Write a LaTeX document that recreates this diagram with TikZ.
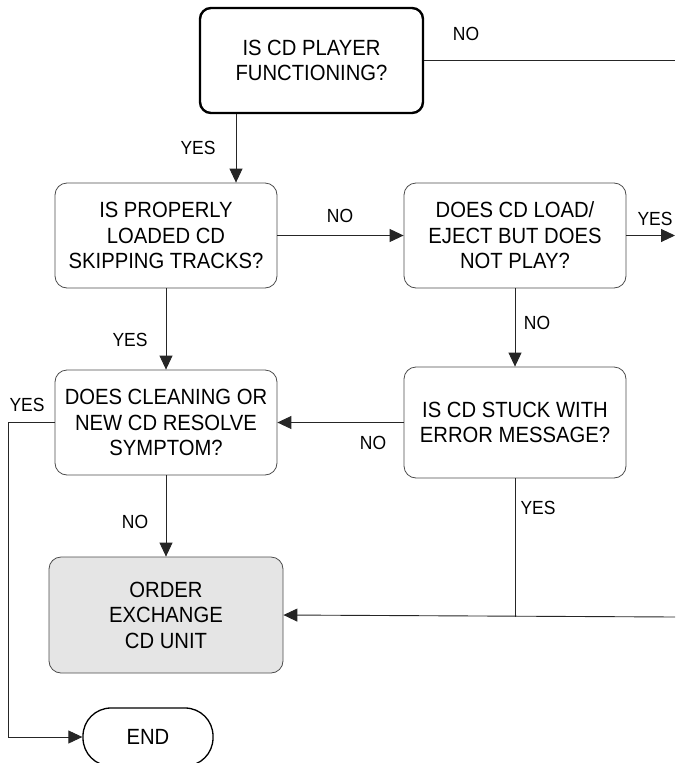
\documentclass[tikz,border=0pt]{standalone}
\usepackage{fontspec}
\setmainfont{Liberation Sans}[FakeStretch=0.92]
\usetikzlibrary{arrows.meta}
\begin{document}
\begin{tikzpicture}[x=1pt,y=-1pt,
  box/.style={draw=black!70, line width=0.8pt, rounded corners=12pt, align=center,
    inner sep=0pt, font=\fontsize{22}{25.5}\selectfont, text=black},
  topbox/.style={box, draw=black, line width=2.4pt, rounded corners=11pt},
  grey/.style={box, fill=black!10},
  endbox/.style={box, draw=black, line width=1.3pt, rounded corners=28pt},
  lbl/.style={font=\fontsize{19}{20}\selectfont, text=black, inner sep=0pt},
  conn/.style={draw=black!85, line width=0.9pt},
  arr/.style={conn, -{Triangle[length=14pt,width=13pt]}}]
\useasboundingbox (0,0) rectangle (675,763);
% nodes
\node[topbox, minimum width=223pt, minimum height=105pt] (top) at (311.5,60.5) {IS CD PLAYER\\FUNCTIONING?};
\node[box, minimum width=222pt, minimum height=105pt] (b2) at (166,235.5) {IS PROPERLY\\LOADED CD\\SKIPPING TRACKS?};
\node[box, minimum width=222pt, minimum height=105pt] (b3) at (515,235.5) {DOES CD LOAD/\\EJECT BUT DOES\\NOT PLAY?};
\node[box, minimum width=222pt, minimum height=105pt] (b4) at (166,422.5) {DOES CLEANING OR\\NEW CD RESOLVE\\SYMPTOM?};
\node[box, minimum width=222pt, minimum height=111pt] (b5) at (515,422.5) {IS CD STUCK WITH\\ERROR MESSAGE?};
\node[grey, minimum width=234pt, minimum height=116pt] (b6) at (166,615) {ORDER\\EXCHANGE\\CD UNIT};
\node[endbox, minimum width=130pt, minimum height=58pt] (end) at (148,737) {END};
% coordinates
\coordinate (c1) at (236,0);
\coordinate (r1) at (675,60.5);
\coordinate (r2) at (675,235.5);
\coordinate (l1) at (8,422.5);
\coordinate (l2) at (8,737);
\coordinate (d1) at (515,617);
\coordinate (r3) at (675,617);
% connectors
\draw[conn] (top.east) -- (r1);
\draw[arr] (c1 |- top.south) -- (c1 |- b2.north);
\draw[arr] (b2.east) -- (b3.west);
\draw[arr] (b3.east) -- (r2);
\draw[arr] (b2.south) -- (b4.north);
\draw[arr] (b3.south) -- (b5.north);
\draw[arr] (b5.west) -- (b4.east);
\draw[arr] (b4.west) -- (l1) -- (l2) -- (end.west);
\draw[arr] (b4.south) -- (b6.north);
\draw[conn] (b5.south) -- (d1);
\draw[arr] (r3) -- (b6.east);
% labels
\node[lbl] (n1) at (466,34) {NO};
\node[lbl] (y1) at (198,148) {YES};
\node[lbl] (n2) at (340,216) {NO};
\node[lbl] (y2) at (655,219) {YES};
\node[lbl] (y3) at (130,340) {YES};
\node[lbl] (n3) at (537,323) {NO};
\node[lbl] (n4) at (373,443) {NO};
\node[lbl] (y4) at (27,405) {YES};
\node[lbl] (n5) at (135,522) {NO};
\node[lbl] (y5) at (538,508) {YES};
\end{tikzpicture}
\end{document}
